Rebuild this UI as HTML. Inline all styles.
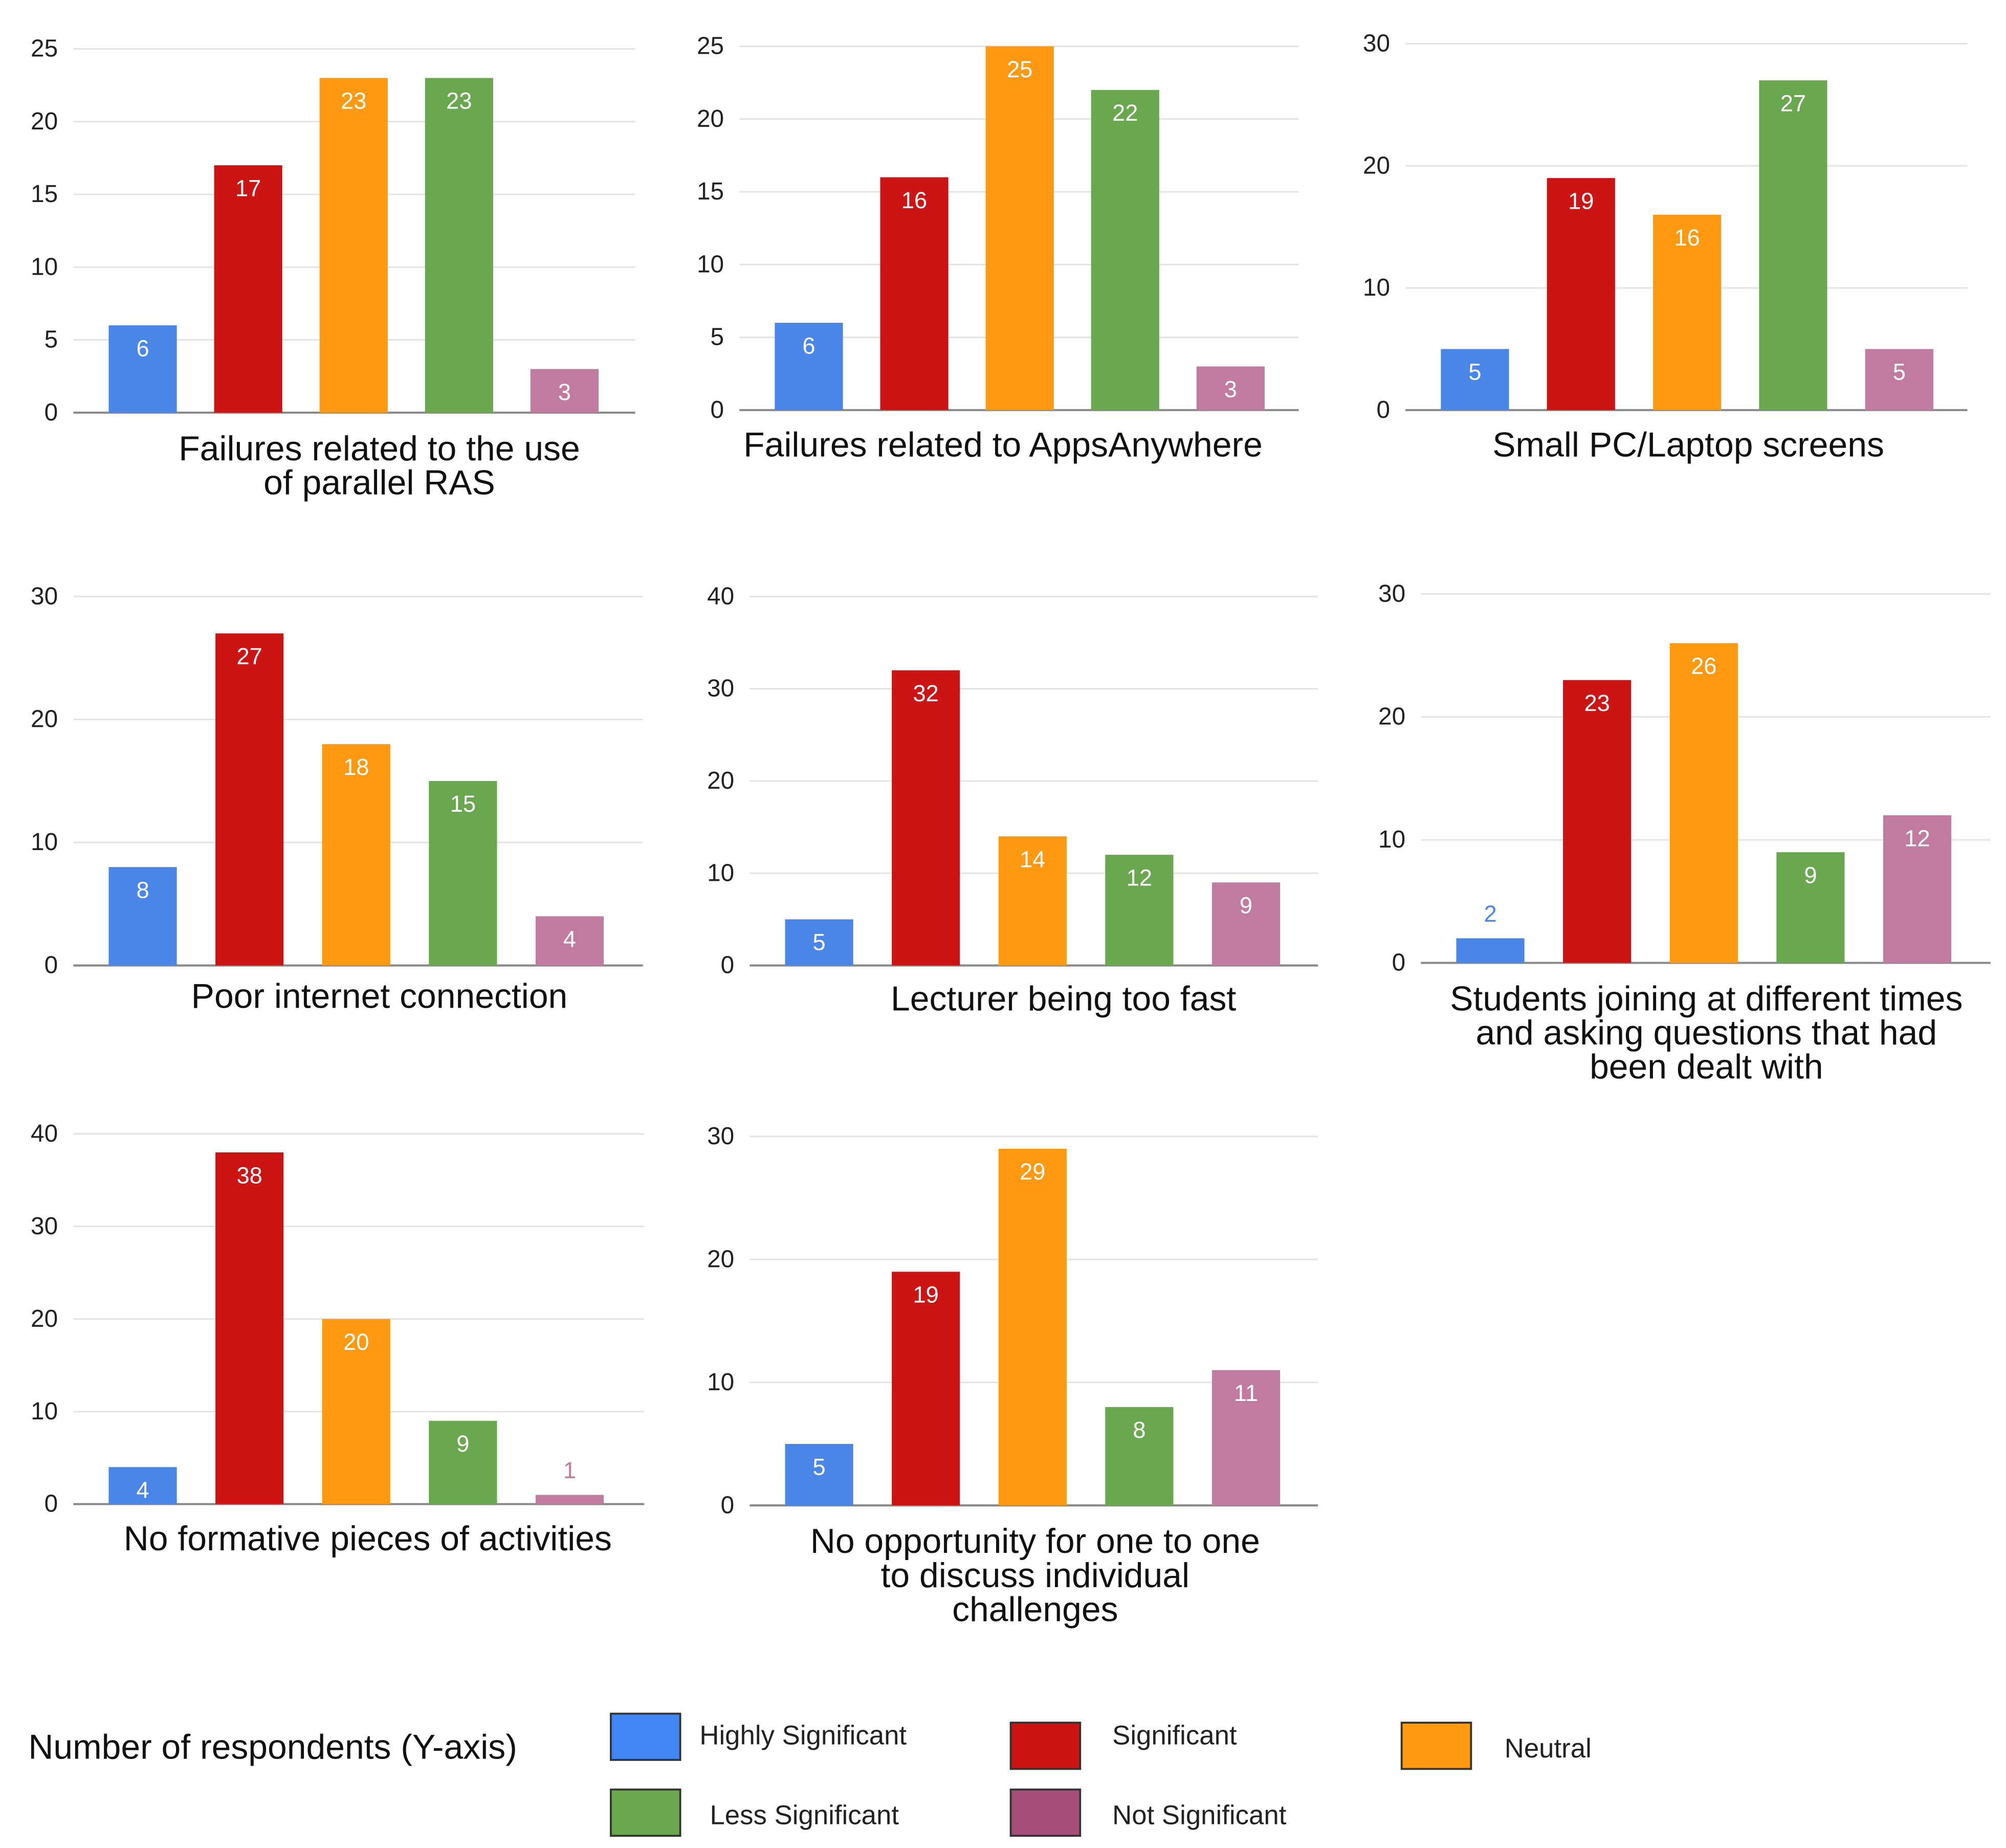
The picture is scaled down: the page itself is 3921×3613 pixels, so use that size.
<!DOCTYPE html>
<html><head><meta charset="utf-8"><style>
html,body{margin:0;padding:0;background:#fff}
svg{display:block;font-family:"Liberation Sans",Arial,sans-serif}
</style></head><body>
<svg id="s" width="3921" height="3613" viewBox="0 0 1560 1437.5" xmlns="http://www.w3.org/2000/svg">
<g id="charts"></g>
<g font-size="21" fill="#222">
<text x="22" y="1368" font-size="27" fill="#111">Number of respondents (Y-axis)</text>
<rect x="475" y="1333" width="54" height="36" fill="#4285f4" stroke="#333" stroke-width="1.5"/>
<text x="544" y="1357">Highly Significant</text>
<rect x="786" y="1340" width="54" height="36" fill="#cc1414" stroke="#333" stroke-width="1.5"/>
<text x="865" y="1357">Significant</text>
<rect x="1090" y="1340" width="54" height="36" fill="#ff9912" stroke="#333" stroke-width="1.5"/>
<text x="1170" y="1367">Neutral</text>
<rect x="475" y="1392" width="54" height="36" fill="#6aa84f" stroke="#333" stroke-width="1.5"/>
<text x="552" y="1419">Less Significant</text>
<rect x="786" y="1392" width="54" height="36" fill="#a64d79" stroke="#333" stroke-width="1.5"/>
<text x="865" y="1419">Not Significant</text>
</g>
</svg>
<script>
const categories = ["Highly Significant","Significant","Neutral","Less Significant","Not Significant"];
const colors = ["#4a86e8","#cc1414","#ff9912","#6aa84f","#c27ba0"];
const titles = [
 ["Failures related to the use","of parallel RAS"],
 ["Failures related to AppsAnywhere"],
 ["Small PC/Laptop screens"],
 ["Poor internet connection"],
 ["Lecturer being too fast"],
 ["Students joining at different times","and asking questions that had","been dealt with"],
 ["No formative pieces of activities"],
 ["No opportunity for one to one","to discuss individual","challenges"]
];
const values = [
 [6,17,23,23,3],
 [6,16,25,22,3],
 [5,19,16,27,5],
 [8,27,18,15,4],
 [5,32,14,12,9],
 [2,23,26,9,12],
 [4,38,20,9,1],
 [5,19,29,8,11]
];
const yMax = [25,25,30,30,40,30,40,30];
const yStep = [5,5,10,10,10,10,10,10];
// layout (not data)
const layout = [
 {x0:57,x1:494,base:321,top:38,tx:295,ty:350,sp:82},
 {x0:575,x1:1010,base:319,top:36,tx:780,ty:347,sp:82},
 {x0:1093,x1:1530,base:319,top:34,tx:1313,ty:347,sp:82.5},
 {x0:57,x1:500,base:751,top:464,tx:295,ty:776,sp:83},
 {x0:583,x1:1025,base:751,top:464,tx:827,ty:778,sp:83},
 {x0:1105,x1:1548,base:749,top:462,tx:1327,ty:778,sp:83},
 {x0:57,x1:501,base:1170,top:882,tx:286,ty:1198,sp:83},
 {x0:583,x1:1025,base:1171,top:884,tx:805,ty:1200,sp:83}
];
const NS="http://www.w3.org/2000/svg";
const root=document.getElementById('charts');
function mk(tag,attrs,parent){const e=document.createElementNS(NS,tag);for(const k in attrs)e.setAttribute(k,attrs[k]);parent.appendChild(e);return e;}
values.forEach((vals,ci)=>{
 const L=layout[ci];
 const g=mk('g',{},root);
 
 
 const y=v=>L.base-(v/yMax[ci])*(L.base-L.top);
 for(let t=0;t<=yMax[ci];t+=yStep[ci]){
  const ln=mk('line',{x1:L.x0,x2:L.x1,y1:y(t),y2:y(t),stroke:t===0?'#888':'#e3e3e3','stroke-width':t===0?1.6:1.2},g);
  
  
  const tl=mk('text',{x:L.x0-12,y:y(t)+6,'text-anchor':'end','font-size':19,fill:'#222'},g);
  tl.textContent=t;
  
  
 }
 const bw=53;
 vals.forEach((v,i)=>{
  const cx=L.x0+54+L.sp*i;
  const r=mk('rect',{x:cx-bw/2,y:y(v),width:bw,height:L.base-y(v),fill:colors[i]},g);
  
  
  const small=(L.base-y(v))<26;
  const t=mk('text',{x:cx,y:small?y(v)-13:y(v)+24,'text-anchor':'middle','font-size':18,fill:small?colors[i]:'#fff'},g);
  t.textContent=v;
  
  
 });
 const tt=mk('text',{'text-anchor':'middle','font-size':27,fill:'#111'},g);
 
 
 titles[ci].forEach((s,k)=>{const sp=mk('tspan',{x:L.tx,y:L.ty+k*26.5+8},tt);sp.textContent=s;});
});
</script>
</body></html>
